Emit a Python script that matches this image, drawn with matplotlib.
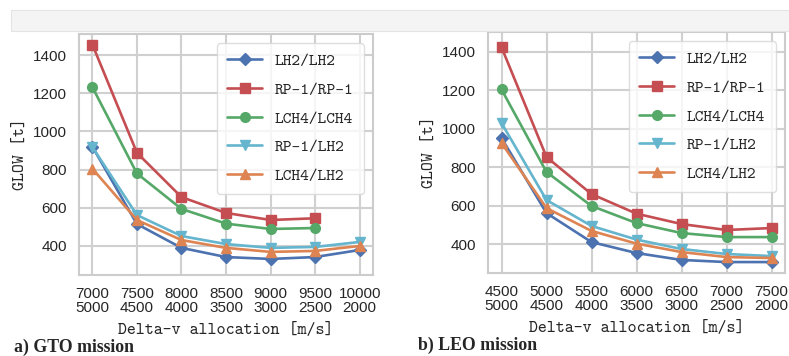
#!/usr/bin/env python3

import os
import matplotlib
matplotlib.use("Agg")
import matplotlib.pyplot as plt
from matplotlib import font_manager
from matplotlib.patches import Rectangle
import seaborn as sns

# -----------------------------------------------------------------------------
# data
# -----------------------------------------------------------------------------

series = ["LH2/LH2", "RP-1/RP-1", "LCH4/LCH4", "RP-1/LH2", "LCH4/LH2"]
markers = ["D", "s", "o", "v", "^"]

gto_ticks = ["7000\n5000", "7500\n4500", "8000\n4000", "8500\n3500",
             "9000\n3000", "9500\n2500", "10000\n2000"]
gto_lh2_lh2 = [920, 515, 390, 342, 332, 342, 379]
gto_rp1_rp1 = [1455, 888, 656, 573, 536, 545]
gto_lch4_lch4 = [1232, 780, 594, 517, 489, 494]
gto_rp1_lh2 = [918, 562, 452, 410, 390, 395, 421]
gto_lch4_lh2 = [805, 536, 431, 390, 369, 374, 400]

leo_ticks = ["4500\n5000", "5000\n4500", "5500\n4000", "6000\n3500",
             "6500\n3000", "7000\n2500", "7500\n2000"]
leo_lh2_lh2 = [952, 561, 410, 353, 317, 306, 306]
leo_rp1_rp1 = [1425, 853, 660, 558, 504, 473, 483]
leo_lch4_lch4 = [1205, 775, 598, 509, 457, 436, 436]
leo_rp1_lh2 = [1030, 629, 494, 423, 374, 348, 337]
leo_lch4_lh2 = [926, 587, 468, 402, 358, 332, 327]

# -----------------------------------------------------------------------------
# style
# -----------------------------------------------------------------------------

sns.set_style("whitegrid")
colors = sns.color_palette("deep")
colors = [colors[0], colors[3], colors[2], colors[9], colors[1]]

tt_path = os.path.join(matplotlib.get_data_path(), "fonts", "ttf", "cmtt10.ttf")
font_manager.fontManager.addfont(tt_path)
TT = font_manager.FontProperties(fname=tt_path, size=12.3)
TT_leg = font_manager.FontProperties(fname=tt_path, size=12)

plt.rcParams["font.family"] = ["Liberation Sans", "DejaVu Sans"]

# -----------------------------------------------------------------------------
# plot
# -----------------------------------------------------------------------------

fig = plt.figure(figsize=(7.89, 3.56), dpi=100)
fig.patches.append(Rectangle((11 / 789, 1 - 31 / 356), 1, 21 / 356,
                             transform=fig.transFigure, facecolor="#f4f4f4",
                             edgecolor="#e4e4e4", linewidth=0.8))

ax1 = fig.add_axes([79 / 789, 1 - 275 / 356, 294 / 789, 241 / 356])
ax2 = fig.add_axes([488 / 789, 1 - 273 / 356, 297 / 789, 241 / 356])


def draw(ax, ticks, data, ylim, caption, cap_x):
    for name, vals, mk, c in zip(series, data, markers, colors):
        ax.plot(range(len(vals)), vals, marker=mk, color=c, label=name,
                linewidth=1.9, markersize=7 if mk != "D" else 6.5)
    ax.set_xlim(-0.3, 6.3)
    ax.set_ylim(*ylim)
    ax.set_xticks(range(len(ticks)))
    ax.set_xticklabels(ticks, fontsize=11, linespacing=1.02)
    ax.set_yticks([400, 600, 800, 1000, 1200, 1400])
    ax.tick_params(axis="y", labelsize=11, pad=5)
    ax.tick_params(axis="x", pad=5)
    ax.set_xlabel("Delta-v allocation [m/s]", fontproperties=TT, labelpad=6)
    ax.set_ylabel("GLOW [t]", fontproperties=TT, labelpad=4)
    for s in ax.spines.values():
        s.set_color("#cccccc")
        s.set_linewidth(1.5)
    ax.grid(color="#d0d0d0", linewidth=1.5)
    leg = ax.legend(loc="upper right", prop=TT_leg, handlelength=2.1,
                    handletextpad=0.75, labelspacing=0.78, borderaxespad=0.55,
                    borderpad=0.62, frameon=True, fancybox=True)
    leg.get_frame().set_edgecolor("#d6d6d6")
    ax.text(cap_x, -0.3, caption, transform=ax.transAxes,
            family="Liberation Serif", weight="bold", fontsize=12.8,
            va="center", ha="left")


draw(ax1, gto_ticks,
     [gto_lh2_lh2, gto_rp1_rp1, gto_lch4_lch4, gto_rp1_lh2, gto_lch4_lh2],
     (248, 1510), "a) GTO mission", -0.22)
draw(ax2, leo_ticks,
     [leo_lh2_lh2, leo_rp1_rp1, leo_lch4_lch4, leo_rp1_lh2, leo_lch4_lh2],
     (249, 1504), "b) LEO mission", -0.235)

fig.savefig("out.png", dpi=100)
